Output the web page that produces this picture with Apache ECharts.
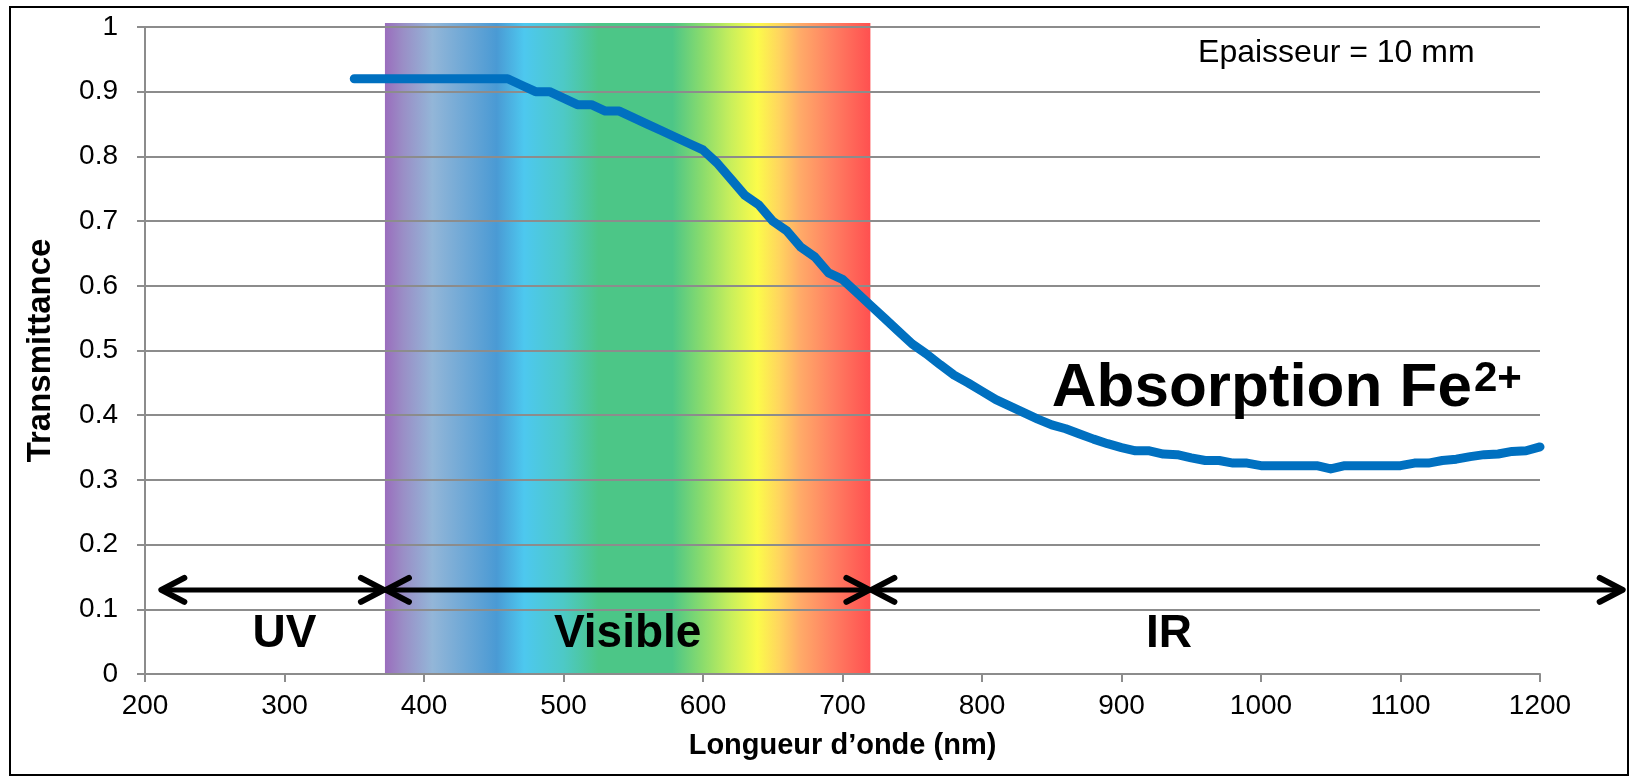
<!DOCTYPE html>
<html>
<head>
<meta charset="utf-8">
<script src="https://cdn.jsdelivr.net/npm/echarts@6/dist/echarts.min.js"></script>
<style>
html,body{margin:0;padding:0;background:#fff;}
#chart{width:1630px;height:776px;}
</style>
</head>
<body>
<div id="chart"></div>
<script>
// ---- Data ----
const wavelengths = [350,360,370,380,390,400,410,420,430,440,450,460,470,480,490,500,510,520,530,540,550,560,570,580,590,600,610,620,630,640,650,660,670,680,690,700,710,720,730,740,750,760,770,780,790,800,810,820,830,840,850,860,870,880,890,900,910,920,930,940,950,960,970,980,990,1000,1010,1020,1030,1040,1050,1060,1070,1080,1090,1100,1110,1120,1130,1140,1150,1160,1170,1180,1190,1200];
const transmittance = [0.92,0.92,0.92,0.92,0.92,0.92,0.92,0.92,0.92,0.92,0.92,0.92,0.91,0.90,0.90,0.89,0.88,0.88,0.87,0.87,0.86,0.85,0.84,0.83,0.82,0.81,0.79,0.765,0.74,0.725,0.70,0.685,0.66,0.645,0.62,0.61,0.59,0.57,0.55,0.53,0.51,0.495,0.478,0.462,0.45,0.437,0.424,0.414,0.404,0.394,0.385,0.379,0.371,0.363,0.356,0.35,0.345,0.345,0.34,0.339,0.334,0.33,0.33,0.326,0.326,0.322,0.322,0.322,0.322,0.322,0.317,0.322,0.322,0.322,0.322,0.322,0.326,0.326,0.33,0.332,0.336,0.339,0.34,0.344,0.345,0.351];

const xTicks = [200,300,400,500,600,700,800,900,1000,1100,1200];
const yTicks = [0,0.1,0.2,0.3,0.4,0.5,0.6,0.7,0.8,0.9,1];

// Visible spectrum band (nm)
const bandStart = 372;
const bandEnd = 720;

// Region arrows (nm) at transmittance level arrowLevel
const arrowStarts = [211, 372, 720];
const arrowEnds = [372, 720, 1260];
const arrowLevel = 0.13;

// Region labels
const regionNames = ['UV', 'Visible', 'IR'];
const regionNameX = [300, 546, 934];
const regionNameY = 0.061;

// Other annotations
const noteText = 'Epaisseur = 10 mm';
const noteX = 1054;
const noteY = 0.96;
const absorptionMain = 'Absorption Fe';
const absorptionSup = '2+';
const absorptionX = 850;
const absorptionY = 0.44;

const FONT = '"Liberation Sans", Arial, sans-serif';
const GRID_COLOR = '#8c8c8c';

const chart = echarts.init(document.getElementById('chart'));

const linePoints = wavelengths.map((w, i) => [w, transmittance[i]]);

const spectrumStops = [
  {offset: 0.000, color: '#9A6DBD'},
  {offset: 0.037, color: '#9A8EC6'},
  {offset: 0.098, color: '#93B6D8'},
  {offset: 0.230, color: '#4A9AD4'},
  {offset: 0.287, color: '#4DC8EF'},
  {offset: 0.368, color: '#4DC9C6'},
  {offset: 0.440, color: '#4CC687'},
  {offset: 0.592, color: '#4CC687'},
  {offset: 0.655, color: '#8BDC6C'},
  {offset: 0.713, color: '#C9EF5B'},
  {offset: 0.767, color: '#FBFB4A'},
  {offset: 0.813, color: '#FFD45F'},
  {offset: 0.856, color: '#FFAA68'},
  {offset: 0.922, color: '#FF7F62'},
  {offset: 1.000, color: '#FF5050'}
];

const option = {
  backgroundColor: '#ffffff',
  animation: false,
  textStyle: {fontFamily: FONT},
  grid: {left: 145, right: 90, top: 27, bottom: 102, containLabel: false},
  graphic: [{
    type: 'rect',
    shape: {x: 10, y: 7, width: 1618, height: 768},
    style: {fill: 'none', stroke: '#000', lineWidth: 2},
    z: 100
  }],
  xAxis: {
    type: 'value', min: xTicks[0], max: xTicks[xTicks.length - 1], interval: 100,
    z: 3,
    name: 'Longueur d’onde (nm)', nameLocation: 'middle', nameGap: 57,
    nameTextStyle: {fontSize: 29, fontWeight: 'bold', color: '#000', fontFamily: FONT},
    axisLine: {show: true, lineStyle: {color: GRID_COLOR, width: 2}},
    axisTick: {show: true, length: 8, lineStyle: {color: GRID_COLOR, width: 2}},
    axisLabel: {fontSize: 28, color: '#000', margin: 18, fontFamily: FONT,
      formatter: v => String(Math.round(v))},
    splitLine: {show: false}
  },
  yAxis: {
    type: 'value', min: yTicks[0], max: yTicks[yTicks.length - 1], interval: 0.1,
    z: 3,
    name: 'Transmittance', nameLocation: 'middle', nameGap: 88, nameRotate: 90,
    nameTextStyle: {fontSize: 33, fontWeight: 'bold', color: '#000', fontFamily: FONT},
    axisLine: {show: true, lineStyle: {color: GRID_COLOR, width: 2}},
    axisTick: {show: true, length: 8, lineStyle: {color: GRID_COLOR, width: 2}},
    axisLabel: {fontSize: 28, color: '#000', margin: 27, fontFamily: FONT,
      formatter: v => String(Math.round(v * 10) / 10)},
    splitLine: {show: true, lineStyle: {color: GRID_COLOR, width: 2}}
  },
  series: [
    {
      type: 'custom', name: 'band', z: 1, clip: false, silent: true,
      data: [[bandStart, bandEnd]],
      encode: {x: [0, 1]},
      renderItem: function (params, api) {
        const p0 = api.coord([api.value(0), 1]);
        const p1 = api.coord([api.value(1), 0]);
        return {
          type: 'rect',
          shape: {x: p0[0], y: p0[1] - 4, width: p1[0] - p0[0], height: p1[1] - p0[1] + 4},
          style: {fill: {type: 'linear', x: 0, y: 0, x2: 1, y2: 0, colorStops: spectrumStops}}
        };
      }
    },
    {
      type: 'line', name: 'Transmittance', z: 5,
      data: linePoints, symbol: 'none', smooth: false,
      lineStyle: {color: '#0070C0', width: 9, cap: 'round', join: 'round'}
    },
    {
      type: 'custom', name: 'arrows', z: 6, clip: false, silent: true,
      data: arrowStarts.map((s, i) => [s, arrowEnds[i], arrowLevel]),
      encode: {x: [0, 1], y: 2},
      renderItem: function (params, api) {
        const a = api.coord([api.value(0), api.value(2)]);
        const b = api.coord([api.value(1), api.value(2)]);
        const hx = 24, hy = 12;
        const st = {stroke: '#000', lineWidth: 5, lineCap: 'round', lineJoin: 'round', fill: 'none'};
        const st2 = {stroke: '#000', lineWidth: 6, lineCap: 'round', lineJoin: 'round', fill: 'none'};
        return {
          type: 'group',
          children: [
            {type: 'line', shape: {x1: a[0] + 2, y1: a[1], x2: b[0] - 2, y2: b[1]}, style: st},
            {type: 'polyline', shape: {points: [[a[0] + hx, a[1] - hy], [a[0] + 1, a[1]], [a[0] + hx, a[1] + hy]]}, style: st2},
            {type: 'polyline', shape: {points: [[b[0] - hx, b[1] - hy], [b[0] - 1, b[1]], [b[0] - hx, b[1] + hy]]}, style: st2}
          ]
        };
      }
    },
    {
      type: 'custom', name: 'regionLabels', z: 7, clip: false, silent: true,
      data: regionNames.map((n, i) => [regionNameX[i], regionNameY]),
      encode: {x: 0, y: 1},
      renderItem: function (params, api) {
        const p = api.coord([api.value(0), api.value(1)]);
        return {
          type: 'text', x: p[0], y: p[1],
          style: {text: regionNames[params.dataIndex], fill: '#000', align: 'center', verticalAlign: 'middle',
            font: 'bold 46px ' + FONT}
        };
      }
    },
    {
      type: 'custom', name: 'notes', z: 7, clip: false, silent: true,
      data: [[noteX, noteY, 0], [absorptionX, absorptionY, 1]],
      encode: {x: 0, y: 1},
      renderItem: function (params, api) {
        const p = api.coord([api.value(0), api.value(1)]);
        if (api.value(2) === 0) {
          return {
            type: 'text', x: p[0], y: p[1],
            style: {text: noteText, fill: '#000', align: 'center', verticalAlign: 'middle',
              font: '32px ' + FONT}
          };
        }
        return {
          type: 'text', x: p[0], y: p[1],
          style: {
            text: '{m|' + absorptionMain + '}{s|' + absorptionSup + '}',
            align: 'left', verticalAlign: 'middle',
            rich: {
              m: {fontSize: 62, fontWeight: 'bold', fontFamily: FONT, fill: '#000', color: '#000', lineHeight: 62},
              s: {fontSize: 42, fontWeight: 'bold', fontFamily: FONT, fill: '#000', color: '#000', verticalAlign: 'top', lineHeight: 42, padding: [0, 0, 20, 2]}
            }
          }
        };
      }
    }
  ]
};

chart.setOption(option);
</script>
</body>
</html>
